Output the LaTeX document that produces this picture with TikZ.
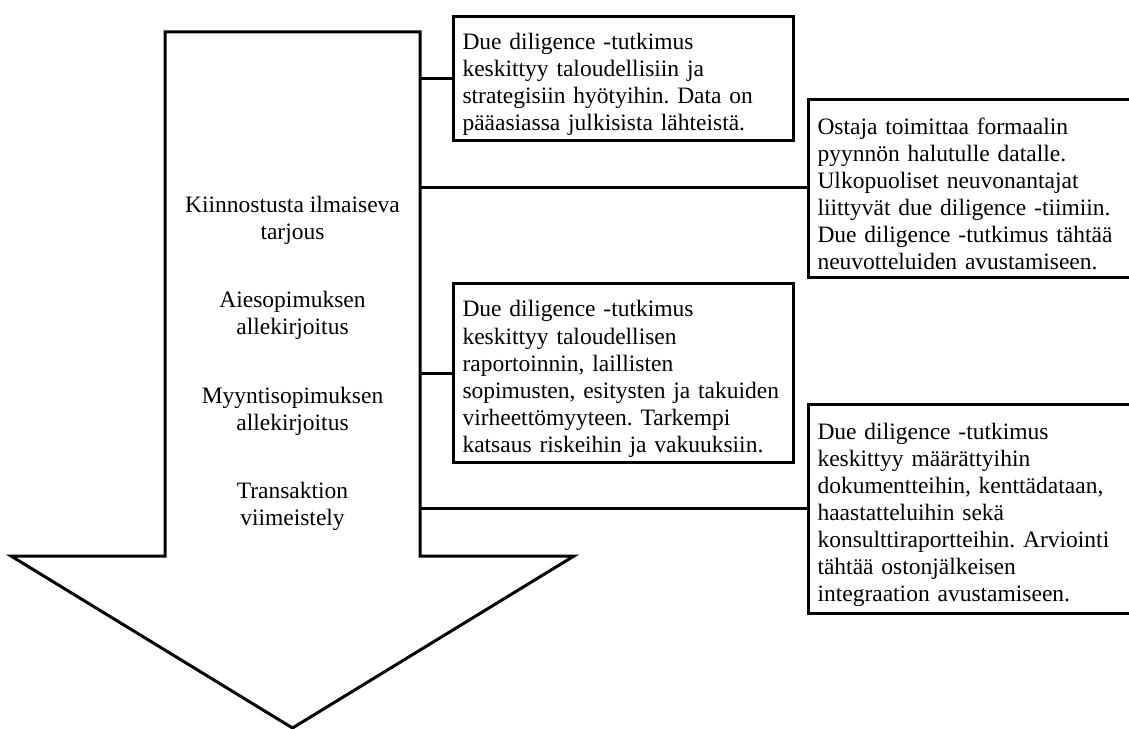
\documentclass[tikz,border=0pt]{standalone}
\usepackage{fontspec}
\setmainfont{Liberation Serif}
\frenchspacing
\begin{document}
\begin{tikzpicture}[x=1bp,y=-1bp,
  every node/.style={font=\fontsize{23.5bp}{27bp}\selectfont},
  outl/.style={draw=black,line width=3bp,line join=miter},
  infobox/.style={outl,fill=white,rectangle,anchor=north west,inner xsep=9bp,inner ysep=0bp,
     text width=322bp,minimum width=340bp,align=left,
     execute at begin node={\rule{0pt}{28bp}}},
  steplabel/.style={align=center,inner sep=0bp},
  conn/.style={draw=black,line width=3bp}]
\useasboundingbox (0,0) rectangle (1129,729);
\clip (0,0) rectangle (1129,729);
\fill[white] (0,0) rectangle (1129,729);
% big down arrow
\draw[outl,fill=white] (165,32) -- (420,32) -- (420,556) -- (574,556) -- (292.5,728)
   -- (11,556) -- (165,556) -- cycle;
\coordinate (s1) at (420,79);
\coordinate (s2) at (420,188);
\coordinate (s3) at (420,373);
\coordinate (s4) at (420,508);
% stage labels
\node[steplabel] (t1) at (292.5,220) {Kiinnostusta ilmaiseva\\tarjous};
\node[steplabel] (t2) at (292.5,315.5) {Aiesopimuksen\\allekirjoitus};
\node[steplabel] (t3) at (292.5,411) {Myyntisopimuksen\\allekirjoitus};
\node[steplabel] (t4) at (292.5,506.5) {Transaktion\\viimeistely};
% info boxes
\node[infobox,minimum height=124bp] (b1) at (452,15) {Due diligence -tutkimus\\keskittyy taloudellisiin ja\\strategisiin hyötyihin. Data on\\pääasiassa julkisista lähteistä.};
\node[infobox,minimum height=178bp] (b2) at (807,98) {Ostaja toimittaa formaalin\\pyynnön halutulle datalle.\\Ulkopuoliset neuvonantajat\\liittyvät due diligence -tiimiin.\\Due diligence -tutkimus tähtää\\neuvotteluiden avustamiseen.};
\node[infobox,minimum height=179bp] (b3) at (452,282) {Due diligence -tutkimus\\keskittyy taloudellisen\\raportoinnin, laillisten\\sopimusten, esitysten ja takuiden\\virheettömyyteen. Tarkempi\\katsaus riskeihin ja vakuuksiin.};
\node[infobox,minimum height=209bp] (b4) at (807,403) {Due diligence -tutkimus\\keskittyy määrättyihin\\dokumentteihin, kenttädataan,\\haastatteluihin sekä\\konsulttiraportteihin. Arviointi\\tähtää ostonjälkeisen\\integraation avustamiseen.};
% connectors
\draw[conn] (s1) -- (s1 -| b1.west);
\draw[conn] (s2) -- (s2 -| b2.west);
\draw[conn] (s3) -- (s3 -| b3.west);
\draw[conn] (s4) -- (s4 -| b4.west);
\end{tikzpicture}
\end{document}
